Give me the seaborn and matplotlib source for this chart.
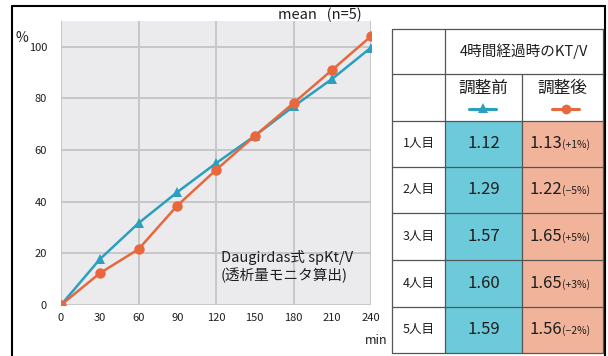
import matplotlib
matplotlib.use("Agg")
import matplotlib.pyplot as plt
from matplotlib.patches import Rectangle
import seaborn as sns
import pandas as pd

# ---- data ----
minutes = [0, 30, 60, 90, 120, 150, 180, 210, 240]
before_adj = [0, 17.7, 31.7, 43.7, 54.9, 65.5, 76.9, 87.6, 99.7]   # 調整前
after_adj = [0, 12.3, 21.6, 38.5, 52.3, 65.5, 78.2, 91.1, 104.1]   # 調整後
series_names = ["調整前", "調整後"]
y_ticks = [0, 20, 40, 60, 80, 100]
row_labels = ["1人目", "2人目", "3人目", "4人目", "5人目"]
ktv_before = ["1.12", "1.29", "1.57", "1.60", "1.59"]
ktv_after = ["1.13", "1.22", "1.65", "1.65", "1.56"]
ktv_change = ["(+1%)", "(−5%)", "(+5%)", "(+3%)", "(−2%)"]

BLUE = "#2A9FBE"
ORANGE = "#E8673C"
CELL_BLUE = "#6DCADB"
CELL_SALMON = "#F1B49B"
TXT = "#1E1E1E"

sns.set_style("darkgrid")
plt.rcParams["font.family"] = ["Noto Sans CJK JP", "DejaVu Sans"]

W, H = 608, 356
fig = plt.figure(figsize=(W / 100, H / 100), dpi=100)

df = pd.DataFrame({
    "min": minutes * 2,
    "val": before_adj + after_adj,
    "series": [series_names[0]] * len(minutes) + [series_names[1]] * len(minutes),
})

ax = fig.add_axes([61 / W, 1 - 305 / H, 310 / W, 284 / H])
ax.set_facecolor("#EBEBEE")
sns.lineplot(data=df, x="min", y="val", hue="series", style="series",
             markers={series_names[0]: "^", series_names[1]: "o"}, dashes=False,
             palette={series_names[0]: BLUE, series_names[1]: ORANGE},
             markersize=7.5, markeredgewidth=0, linewidth=1.8, legend=False, ax=ax)
ax.set_xlim(0, 240)
ax.set_ylim(0, 110)
ax.set_xticks([0, 60, 120, 180, 240])
ax.set_xticks([30, 90, 150, 210], minor=True)
ax.set_xticklabels(["0", "60", "120", "180", "240"], fontsize=8, color=TXT)
ax.set_xticklabels(["30", "90", "150", "210"], minor=True, fontsize=8, color=TXT)
ax.set_yticks(y_ticks)
ax.set_yticklabels([str(v) for v in y_ticks], fontsize=8, color=TXT)
ax.tick_params(axis="both", which="both", length=0, pad=6)
ax.tick_params(axis="y", pad=10)
ax.grid(True, which="major", color="#C6C6CA", linewidth=1.4)
ax.grid(False, which="minor")
ax.set_xlabel("")
ax.set_ylabel("")
for s in ax.spines.values():
    s.set_visible(False)

ax.text(0.515, 0.135, "Daugirdas式 spKt/V\n(透析量モニタ算出)", transform=ax.transAxes,
        fontsize=10.5, color=TXT, va="center", ha="left", linespacing=1.2)

# ---- overlay for frame, labels, table ----
ov = fig.add_axes([0, 0, 1, 1], facecolor="none")
ov.set_xlim(0, W)
ov.set_ylim(H, 0)
ov.axis("off")

ov.plot([12, 12], [6, H], color="black", lw=1.5)
ov.plot([12, 605], [6, 6], color="black", lw=1.5)
ov.plot([605, 605], [6, H], color="black", lw=1.5)

ov.text(320, 15, "mean   (n=5)", fontsize=10.5, ha="center", va="center", color=TXT)
ov.text(22, 38, "%", fontsize=10, ha="center", va="center", color=TXT)
ov.text(376, 341, "min", fontsize=9, ha="center", va="center", color=TXT)

# table geometry (pixels)
cx = [392, 445, 522, 603]
ry = [29, 74, 121, 167, 213, 260, 307, 353]
lc = "#555555"

for i in range(5):
    y0, y1 = ry[i + 2], ry[i + 3]
    ov.add_patch(Rectangle((cx[1], y0), cx[2] - cx[1], y1 - y0, facecolor=CELL_BLUE, edgecolor="none"))
    ov.add_patch(Rectangle((cx[2], y0), cx[3] - cx[2], y1 - y0, facecolor=CELL_SALMON, edgecolor="none"))
    ym = (y0 + y1) / 2
    ov.text((cx[0] + cx[1]) / 2, ym, row_labels[i], fontsize=9, ha="center", va="center", color=TXT)
    ov.text((cx[1] + cx[2]) / 2, ym, ktv_before[i], fontsize=12, ha="center", va="center", color=TXT)
    ov.text(cx[2] + 40, ym, ktv_after[i], fontsize=12, ha="right", va="center", color=TXT)
    ov.text(cx[2] + 40, ym + 1, ktv_change[i], fontsize=7.5, ha="left", va="center", color=TXT)

# grid lines of table
for x in [cx[0], cx[1], cx[3]]:
    ov.plot([x, x], [ry[0], ry[-1]], color=lc, lw=0.9)
ov.plot([cx[2], cx[2]], [ry[1], ry[-1]], color=lc, lw=0.9)
for y in ry:
    ov.plot([cx[0], cx[3]], [y, y], color=lc, lw=0.9)

ov.text((cx[1] + cx[3]) / 2, (ry[0] + ry[1]) / 2, "4時間経過時のKT/V", fontsize=10.5,
        ha="center", va="center", color=TXT)
ov.text((cx[1] + cx[2]) / 2, 88, series_names[0], fontsize=12, ha="center", va="center", color=TXT)
ov.text((cx[2] + cx[3]) / 2, 88, series_names[1], fontsize=12, ha="center", va="center", color=TXT)
ov.plot([469, 496], [109, 109], color=BLUE, lw=2.2)
ov.plot([482.5], [107.5], marker="^", color=BLUE, markersize=7, markeredgewidth=0)
ov.plot([552, 579], [109, 109], color=ORANGE, lw=2.2)
ov.plot([565.5], [109], marker="o", color=ORANGE, markersize=7, markeredgewidth=0)

fig.savefig("out.png", dpi=100)
